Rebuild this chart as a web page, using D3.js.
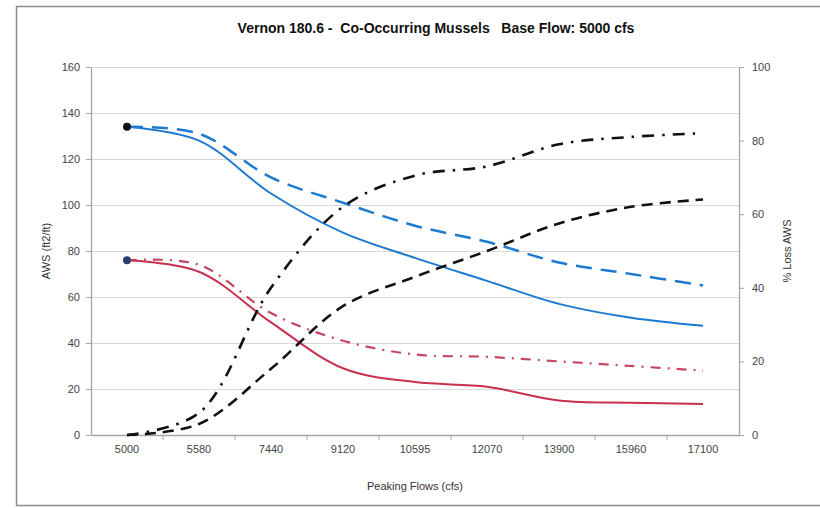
<!DOCTYPE html>
<html><head><meta charset="utf-8">
<script src="https://cdn.jsdelivr.net/npm/d3@7"></script>
<style>body{margin:0;background:#fff}svg{display:block}text{font-family:"Liberation Sans",Arial,sans-serif}</style>
</head><body><svg id="c" width="820" height="508"></svg>
<script>
const categories = ["5000","5580","7440","9120","10595","12070","13900","15960","17100"];
const awsSolidBlue = [134,128,105,88,77,67,57,51,47.5];
const awsDashBlue  = [134,131,112,101,91,84,75,70,65];
const awsSolidRed  = [76,71,49,29,23,21,15,14,13.5];
const awsDashDotRed= [76,74,53,41,35,34,32,30,28];
const lossDash     = [0,3,18,35,43,50,57.5,62,64];
const lossDashDot  = [0,6,40,62,70.5,73,79,81,82];
const leftTicks = [0,20,40,60,80,100,120,140,160];
const rightTicks = [0,20,40,60,80,100];

const svg = d3.select("#c");
const L=91,R=739,T=67,B=435;
svg.append("rect").attr("x",16.5).attr("y",6.5).attr("width",820).attr("height",499).attr("fill","#fff").attr("stroke","#8c8c8c").attr("stroke-width",1.5);

const x = d3.scaleBand().domain(categories).range([L,R]);
const yL = d3.scaleLinear().domain([0,160]).range([B,T]);
const yR = d3.scaleLinear().domain([0,100]).range([B,T]);

svg.append("g").selectAll("line").data(leftTicks.slice(1)).join("line")
  .attr("x1",L).attr("x2",R).attr("y1",d=>Math.round(yL(d))+.5).attr("y2",d=>Math.round(yL(d))+.5)
  .attr("stroke","#d9d9d9").attr("stroke-width",1.2);

const axStyle = g=>{g.select(".domain").attr("stroke","#a6a6a6").attr("stroke-width",1.3);
  g.selectAll(".tick line").attr("stroke","#a6a6a6");
  g.selectAll(".tick text").attr("fill","#444").style("font-size","11px").style("font-family","Liberation Sans, Arial, sans-serif");};

svg.append("g").attr("transform",`translate(${L},0)`)
  .call(d3.axisLeft(yL).tickValues(leftTicks).tickSize(5).tickSizeOuter(0).tickPadding(6)).call(axStyle);
svg.append("g").attr("transform",`translate(${R},0)`)
  .call(d3.axisRight(yR).tickValues(rightTicks).tickSize(5).tickSizeOuter(0).tickPadding(8)).call(axStyle);
svg.append("g").attr("transform",`translate(0,${B})`)
  .call(d3.axisBottom(x).tickSize(0).tickPadding(10)).call(axStyle);
svg.append("g").selectAll("line").data(categories.slice(1)).join("line")
  .attr("x1",d=>x(d)).attr("x2",d=>x(d)).attr("y1",B).attr("y2",B+5).attr("stroke","#a6a6a6");

const cx = d=>x(d)+x.bandwidth()/2;
function draw(vals,scale,color,w,dash){
  const line=d3.line().x((d,i)=>cx(categories[i])).y(d=>scale(d)).curve(d3.curveCatmullRom.alpha(0.5));
  svg.append("path").datum(vals).attr("d",line).attr("fill","none").attr("stroke",color)
    .attr("stroke-width",w).attr("stroke-dasharray",dash||null);
}
draw(awsDashDotRed,yL,"#c4465f",2.2,"10,7,2,7");
draw(awsSolidRed,yL,"#c8304e",2);
draw(awsDashBlue,yL,"#1c7ad0",2.5,"16,9");
draw(awsSolidBlue,yL,"#1c7ad0",2);
draw(lossDash,yR,"#111",2.6,"11,7");
draw(lossDashDot,yR,"#111",2.6,"12,8,2.5,8");

svg.append("circle").attr("cx",cx(categories[0])).attr("cy",yL(awsSolidBlue[0])).attr("r",4).attr("fill","#111");
svg.append("circle").attr("cx",cx(categories[0])).attr("cy",yL(awsSolidRed[0])).attr("r",4).attr("fill","#2a3f6e");

svg.append("text").attr("x",436).attr("y",33).attr("text-anchor","middle").attr("font-weight","bold")
  .style("font-size","14px").attr("fill","#111").attr("xml:space","preserve")
  .text("Vernon 180.6 -  Co-Occurring Mussels   Base Flow: 5000 cfs");
svg.append("text").attr("transform",`translate(50,${(T+B)/2}) rotate(-90)`).attr("text-anchor","middle")
  .style("font-size","11px").attr("fill","#333").text("AWS (ft2/ft)");
svg.append("text").attr("transform",`translate(791,${(T+B)/2}) rotate(-90)`).attr("text-anchor","middle")
  .style("font-size","11px").attr("fill","#333").text("% Loss AWS");
svg.append("text").attr("x",(L+R)/2).attr("y",490).attr("text-anchor","middle")
  .style("font-size","11px").attr("fill","#333").text("Peaking Flows (cfs)");
</script></body></html>
